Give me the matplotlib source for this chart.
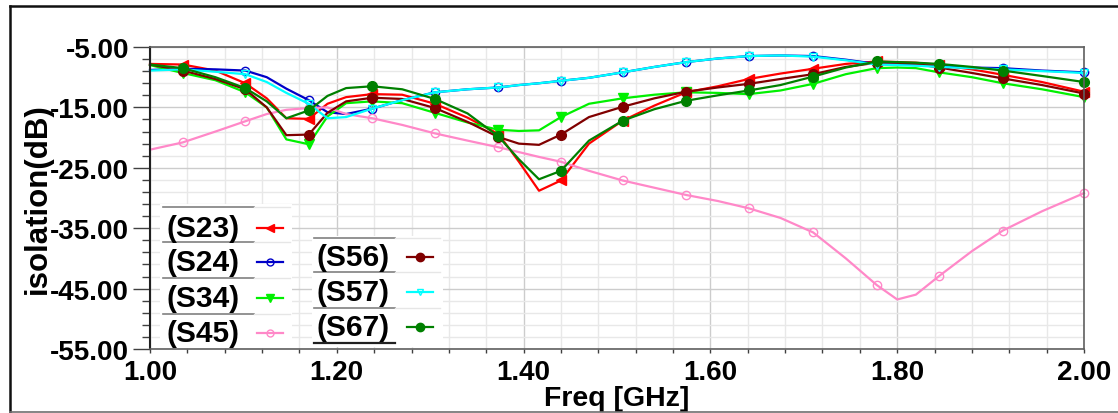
import numpy as np
import matplotlib
matplotlib.use("Agg")
import matplotlib.pyplot as plt
from matplotlib.lines import Line2D
from matplotlib.patches import Rectangle
from matplotlib.transforms import Affine2D
from matplotlib.ticker import MultipleLocator, FormatStrFormatter

W, H = 1118, 414

# ---------------------------------------------------------------- data
freq = [1.000, 1.035, 1.070, 1.102, 1.125, 1.146, 1.170, 1.190, 1.210, 1.238,
        1.270, 1.305, 1.340, 1.373, 1.395, 1.4165, 1.440, 1.470, 1.506, 1.540,
        1.574, 1.608, 1.641, 1.675, 1.710, 1.745, 1.778, 1.800, 1.820, 1.845,
        1.880, 1.913, 1.955, 2.000]
mark_idx = [1, 3, 6, 9, 11, 13, 16, 18, 20, 22, 24, 26, 29, 31, 33]

s23 = [-7.8, -7.9, -8.9, -11.0, -13.5, -16.8, -16.9, -14.4, -13.3, -12.8,
       -12.9, -14.4, -16.7, -19.4, -24.0, -28.8, -27.1, -21.0, -17.2, -14.7,
       -12.5, -11.5, -10.3, -9.4, -8.6, -7.8, -7.4, -7.5, -7.6, -8.0,
       -8.7, -9.6, -10.8, -12.4]
s24 = [-8.8, -8.6, -8.7, -8.9, -10.0, -11.9, -13.8, -15.8, -16.1, -15.2,
       -13.8, -12.5, -12.0, -11.7, -11.3, -11.0, -10.6, -10.1, -9.2, -8.3,
       -7.5, -6.9, -6.5, -6.4, -6.5, -7.1, -7.8, -7.9, -8.0, -8.2,
       -8.4, -8.5, -8.9, -9.2]
s34 = [-8.0, -9.3, -10.5, -12.5, -15.0, -20.3, -21.1, -16.5, -14.3, -14.0,
       -14.3, -15.9, -17.5, -18.7, -18.9, -18.8, -16.6, -14.4, -13.5, -12.9,
       -12.5, -12.6, -12.8, -12.2, -11.1, -9.5, -8.5, -8.4, -8.5, -9.2,
       -10.0, -11.0, -12.0, -13.3]
s45 = [-22.0, -20.8, -19.0, -17.3, -16.1, -15.4, -15.1, -15.0, -16.1, -16.8,
       -17.9, -19.3, -20.5, -21.6, -22.4, -23.2, -24.0, -25.5, -27.1, -28.3,
       -29.5, -30.5, -31.7, -33.3, -35.7, -40.0, -44.4, -46.8, -46.0, -42.9,
       -38.8, -35.4, -32.2, -29.2]
s56 = [-7.9, -8.9, -10.3, -12.0, -15.0, -19.6, -19.5, -15.9, -14.0, -13.4,
       -13.6, -15.1, -17.4, -19.9, -21.0, -21.2, -19.5, -16.6, -14.9, -13.5,
       -12.4, -11.7, -11.1, -10.3, -9.5, -8.3, -7.6, -7.6, -7.8, -8.4,
       -9.3, -10.2, -11.3, -12.7]
s57 = [-8.9, -8.7, -9.1, -9.5, -10.8, -12.6, -14.4, -16.8, -16.6, -15.2,
       -13.8, -12.5, -12.0, -11.7, -11.3, -11.0, -10.6, -10.1, -9.2, -8.3,
       -7.5, -6.9, -6.5, -6.4, -6.6, -7.2, -7.9, -8.0, -8.1, -8.3,
       -8.5, -8.7, -9.0, -9.3]
s67 = [-7.9, -8.5, -10.0, -11.8, -14.0, -16.8, -15.5, -13.1, -11.8, -11.5,
       -12.0, -13.6, -16.0, -19.8, -23.6, -26.9, -25.5, -20.5, -17.2, -15.3,
       -13.9, -13.0, -12.2, -11.3, -9.9, -8.4, -7.4, -7.5, -7.6, -7.8,
       -8.3, -8.9, -9.8, -10.8]

names = ["(S23)", "(S24)", "(S34)", "(S45)", "(S56)", "(S57)", "(S67)"]
values = [s23, s24, s34, s45, s56, s57, s67]
colors = ["#ff0000", "#0000c8", "#00f000", "#ff88c8", "#800000", "#00ffff", "#008000"]
markers = ["<", "o", "v", "o", "o", "v", "o"]
filled = [True, False, True, False, True, False, True]
msizes = [7, 6, 7, 6, 7, 6, 7]

# ---------------------------------------------------------------- figure
plt.rcParams["font.family"] = ["Liberation Sans", "DejaVu Sans"]
plt.rcParams["font.weight"] = "bold"

fig = plt.figure(figsize=(W / 100, H / 100), dpi=100)
px = Affine2D().scale(1 / W, -1 / H).translate(0, 1) + fig.transFigure  # pixel coords, origin top-left

ax = fig.add_axes([150 / W, 1 - 350 / H, 934 / W, 302 / H])

handles = []
for nm, v, c, m, f, ms in zip(names, values, colors, markers, filled, msizes):
    ln, = ax.plot(freq, v, color=c, lw=1.6, marker=m, ms=ms, markevery=mark_idx,
                  mfc=c if f else "none", mec=c, mew=1.0, label=nm, clip_on=False)
    handles.append(ln)

ax.set_xlim(1.0, 2.0)
ax.set_ylim(-55, -5)
ax.xaxis.set_major_locator(MultipleLocator(0.2))
ax.xaxis.set_minor_locator(MultipleLocator(0.04))
ax.set_yticks(np.arange(-55, -4, 10))
ax.set_yticks(np.arange(-55, -4, 2), minor=True)
ax.xaxis.set_major_formatter(FormatStrFormatter("%.2f"))
ax.yaxis.set_major_formatter(FormatStrFormatter("%.2f"))

ax.grid(which="major", color="#cccccc", lw=1.0, zorder=0)
ax.grid(which="minor", color="#e8e8e8", lw=1.0, zorder=0)
ax.set_axisbelow(True)

ax.tick_params(axis="y", which="major", length=12, width=1.0, color="#404040",
               labelsize=20, pad=3)
ax.tick_params(axis="y", which="minor", length=6, width=1.0, color="#404040")
ax.tick_params(axis="x", which="both", length=3, width=1.0, color="#404040",
               labelsize=20, pad=4)
for lab in ax.get_xticklabels() + ax.get_yticklabels():
    lab.set_fontweight("bold")

for s in ["top", "right", "bottom"]:
    ax.spines[s].set_color("#606060")
    ax.spines[s].set_linewidth(1.2)
ax.spines["left"].set_color("#202020")
ax.spines["left"].set_linewidth(1.5)

ax.set_xlabel("Freq [GHz]", fontsize=20.5, fontweight="bold", labelpad=0)
ax.set_ylabel("isolation(dB)", fontsize=22.5, fontweight="bold", labelpad=-2)

# ---------------------------------------------------------------- legends
def legend_block(x0, x1, y_top, y_bot, text_x, mark_x, rows, entries):
    fig.add_artist(Rectangle((x0, y_top), x1 - x0, y_bot - y_top, transform=px,
                             facecolor="white", edgecolor="none", zorder=5))
    for (lab, h), yc in zip(entries, rows):
        fig.text(text_x, yc, lab, transform=px, fontsize=21.5, fontweight="bold",
                 va="center", ha="left", zorder=7)
        fig.add_artist(Line2D([mark_x - 13, mark_x + 13], [yc, yc], transform=px,
                              color=h.get_color(), lw=1.6, zorder=7))
        fig.add_artist(Line2D([mark_x], [yc], transform=px, marker=h.get_marker(),
                              ms=h.get_markersize() - 1, mfc=h.get_markerfacecolor(),
                              mec=h.get_markeredgecolor(), mew=1.0, ls="none", zorder=8))

legend_block(160, 292, 205, 349, 166, 270, [229, 263, 299, 334],
             list(zip(names[:4], handles[:4])))
for yl in [207.5, 243, 279, 315]:
    fig.add_artist(Line2D([163, 254], [yl, yl], transform=px, color="#808080", lw=1.2, zorder=6))
    fig.add_artist(Line2D([254, 290], [yl, yl], transform=px, color="#e6e6e6", lw=1.0, zorder=6))

legend_block(312, 443, 237, 348, 316, 420, [258, 293, 328],
             list(zip(names[4:], handles[4:])))
for yl in [239, 273, 309]:
    fig.add_artist(Line2D([314, 395], [yl, yl], transform=px, color="#808080", lw=1.2, zorder=6))
    fig.add_artist(Line2D([395, 440], [yl, yl], transform=px, color="#e6e6e6", lw=1.0, zorder=6))
fig.add_artist(Line2D([314, 395], [344, 344], transform=px, color="#202020", lw=1.6, zorder=6))

# ---------------------------------------------------------------- outer frame
fig.add_artist(Line2D([10, 10], [7, 413], transform=px, color="#101010", lw=1.8))
fig.add_artist(Line2D([10, W], [7, 7], transform=px, color="#101010", lw=1.8))
fig.add_artist(Line2D([10, W], [413, 413], transform=px, color="#707070", lw=1.2))

fig.savefig("out.png", dpi=100)
